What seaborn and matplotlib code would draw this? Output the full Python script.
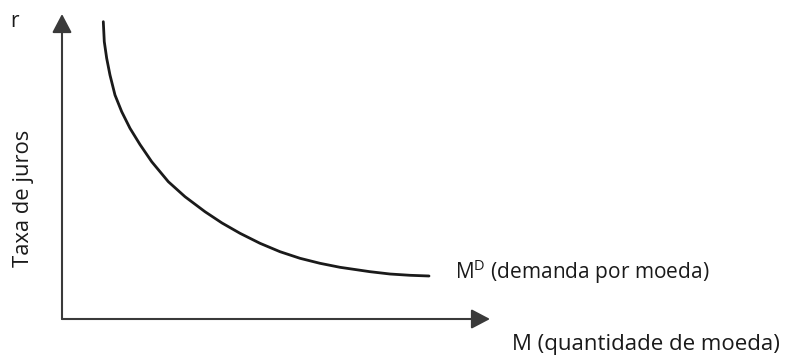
import numpy as np
import pandas as pd
import matplotlib
matplotlib.use("Agg")
import matplotlib.pyplot as plt
import seaborn as sns

# --- data: money demand curve ---
quantidade = [0.965, 0.988, 1.044, 1.121, 1.238, 1.395, 1.589, 1.822, 2.096, 2.484,
              2.874, 3.341, 3.738, 4.159, 4.626, 5.093, 5.561, 6.028, 6.495, 7.196,
              7.664, 8.131, 8.575]
juros = [9.748, 9.092, 8.548, 8.000, 7.344, 6.797, 6.252, 5.721, 5.157, 4.502,
         4.010, 3.518, 3.148, 2.810, 2.482, 2.207, 1.990, 1.826, 1.695, 1.551,
         1.475, 1.433, 1.410]
df = pd.DataFrame({'M': quantidade, 'r': juros})

# --- style ---
sns.set_theme(style="white")
plt.rcParams['font.family'] = ['Open Sans', 'DejaVu Sans']
plt.rcParams['mathtext.fontset'] = 'custom'
plt.rcParams['mathtext.rm'] = 'Open Sans'

fig = plt.figure(figsize=(7.92, 3.56), dpi=100)
# axes box spans from the origin of the diagram up to the arrow tips
ax = fig.add_axes([62 / 792, 1 - 319 / 356, 428 / 792, 305 / 356])
ax.set_xlim(0, 10)
ax.set_ylim(0, 10)
ax.axis('off')

sns.lineplot(data=df, x='M', y='r', ax=ax, color='#1a1a1a', linewidth=2.0,
             sort=False, estimator=None, solid_joinstyle='round')

# axes with arrow heads
arrow = dict(arrowstyle='-|>,head_length=0.95,head_width=0.5', color='#3a3a3a',
             lw=1.5, shrinkA=0, shrinkB=0)
ax.annotate('', xy=(10, 0), xytext=(0, 0), arrowprops=arrow, annotation_clip=False)
ax.annotate('', xy=(0, 10), xytext=(0, 0), arrowprops=arrow, annotation_clip=False)

txt = dict(color='#1a1a1a', clip_on=False)
ax.text(-1.2, 9.74, 'r', ha='left', va='center', fontsize=15, **txt)
ax.text(-0.89, 3.97, 'Taxa de juros', rotation=90, ha='center', va='center',
        fontsize=15.8, **txt)
ax.text(9.18, 1.54, r'M$^{\mathrm{D}}$ (demanda por moeda)', ha='left', va='center',
        fontsize=15, **txt)
ax.text(10.51, -0.82, 'M (quantidade de moeda)', ha='left', va='center',
        fontsize=16, **txt)

plt.savefig('out.png', dpi=100)
